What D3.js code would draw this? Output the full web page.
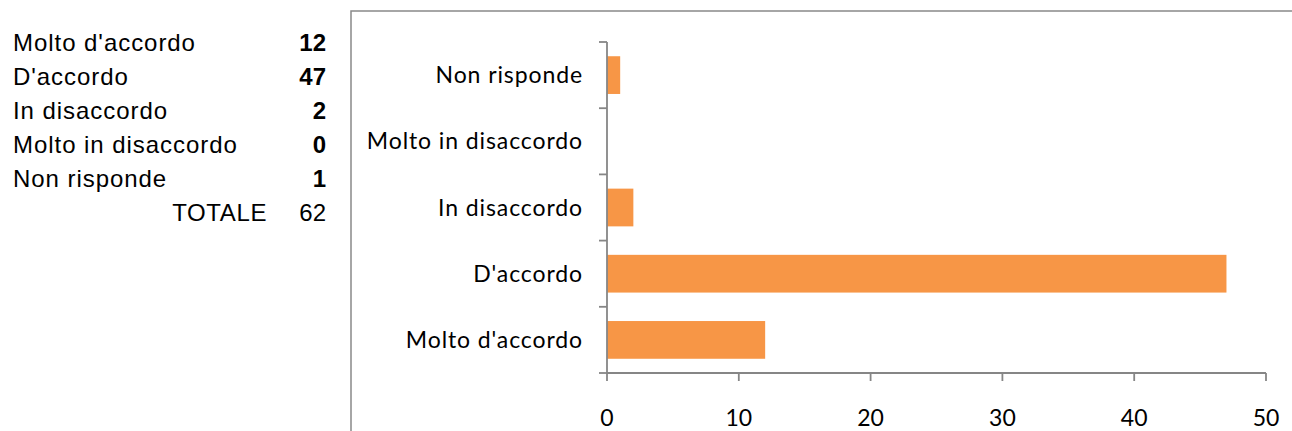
<!DOCTYPE html>
<html>
<head>
<meta charset="utf-8">
<script src="https://cdn.jsdelivr.net/npm/d3@7"></script>
<style>
  body { margin: 0; background: #fff; }
  svg { display: block; }
</style>
</head>
<body>
<svg id="chart" width="1292" height="431"></svg>
<script>
// answers, bottom to top as in the chart
const categories = ["Molto d'accordo", "D'accordo", "In disaccordo", "Molto in disaccordo", "Non risponde"];
const counts = [12, 47, 2, 0, 1];
const totalLabel = "TOTALE";
const total = 62;
const xTicks = [0, 10, 20, 30, 40, 50];

const svg = d3.select("#chart");

const axisColor = "#868686";
const barColor = "#F79646";

// left table
const table = svg.append("g")
    .attr("font-family", "'Liberation Sans', Arial, sans-serif")
    .attr("font-size", 24)
    .attr("fill", "#000");

const rowY = d3.scaleLinear().domain([0, 5]).range([50.5, 221]);

table.selectAll("text.lab")
    .data(categories)
    .join("text")
    .attr("class", "lab")
    .attr("x", 13)
    .attr("y", (d, i) => rowY(i))
    .attr("letter-spacing", 0.95)
    .text(d => d);

table.selectAll("text.val")
    .data(counts)
    .join("text")
    .attr("class", "val")
    .attr("x", 326)
    .attr("y", (d, i) => rowY(i))
    .attr("text-anchor", "end")
    .attr("font-weight", "bold")
    .text(d => d);

table.append("text")
    .attr("x", 267)
    .attr("y", rowY(5))
    .attr("text-anchor", "end")
    .attr("letter-spacing", 0.6)
    .text(totalLabel);

table.append("text")
    .attr("x", 326)
    .attr("y", rowY(5))
    .attr("text-anchor", "end")
    .text(total);

// chart frame (runs off the right and bottom)
svg.append("rect")
    .attr("x", 351)
    .attr("y", 11)
    .attr("width", 1000)
    .attr("height", 500)
    .attr("fill", "none")
    .attr("stroke", "#898989")
    .attr("stroke-width", 1.5);

const x = d3.scaleLinear().domain([0, 50]).range([607, 1266]);
const y = d3.scaleBand()
    .domain(categories)
    .range([373, 42])
    .paddingInner(0.43)
    .paddingOuter(0.215);

const step = y.step();
const boundaries = d3.range(categories.length + 1).map(i => 373 - i * step);

// bars
svg.append("g")
    .selectAll("rect")
    .data(categories.map((c, i) => ({ c, v: counts[i] })).filter(d => d.v > 0))
    .join("rect")
    .attr("x", x(0))
    .attr("y", d => y(d.c))
    .attr("width", d => x(d.v) - x(0))
    .attr("height", y.bandwidth())
    .attr("fill", barColor);

// y axis
const yAxis = svg.append("g").attr("stroke", axisColor).attr("stroke-width", 1.8);
yAxis.append("line")
    .attr("x1", x(0)).attr("x2", x(0))
    .attr("y1", boundaries[boundaries.length - 1]).attr("y2", 373);
yAxis.selectAll("line.tick")
    .data(boundaries)
    .join("line")
    .attr("class", "tick")
    .attr("x1", x(0) - 8).attr("x2", x(0))
    .attr("y1", d => d).attr("y2", d => d);

svg.append("g")
    .attr("font-family", "Lato, 'Open Sans', sans-serif")
    .attr("font-size", 23)
    .attr("fill", "#000")
    .selectAll("text")
    .data(categories)
    .join("text")
    .attr("x", 583)
    .attr("y", d => y(d) + y.bandwidth() / 2)
    .attr("dy", "0.35em")
    .attr("text-anchor", "end")
    .attr("letter-spacing", 0.9)
    .text(d => d);

// x axis
const xAxis = svg.append("g").attr("stroke", axisColor).attr("stroke-width", 1.8);
xAxis.append("line")
    .attr("x1", x(0)).attr("x2", x(50))
    .attr("y1", 373).attr("y2", 373);
xAxis.selectAll("line.tick")
    .data(xTicks)
    .join("line")
    .attr("class", "tick")
    .attr("x1", d => x(d)).attr("x2", d => x(d))
    .attr("y1", 373).attr("y2", 381);

svg.append("g")
    .attr("font-family", "Lato, 'Open Sans', sans-serif")
    .attr("font-size", 23)
    .attr("fill", "#000")
    .selectAll("text")
    .data(xTicks)
    .join("text")
    .attr("x", d => x(d))
    .attr("y", 426)
    .attr("text-anchor", "middle")
    .text(d => d);
</script>
</body>
</html>
